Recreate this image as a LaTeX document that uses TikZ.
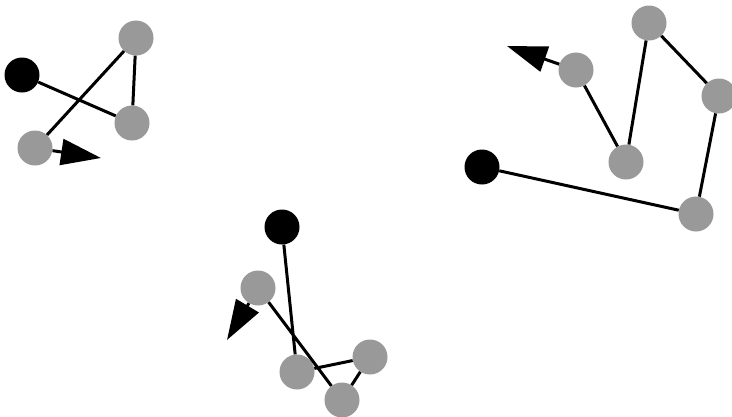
\documentclass[tikz,border=0pt]{standalone}
\usetikzlibrary{arrows.meta}
\definecolor{nodegray}{RGB}{153,153,153}
\begin{document}
\begin{tikzpicture}[x=1pt,y=-1pt,
  gnode/.style={circle,fill=nodegray,minimum size=35pt,inner sep=0pt},
  bnode/.style={circle,fill=black,minimum size=35pt,inner sep=0pt},
  link/.style={line width=3pt,black},
  arr/.style={line width=3pt,black,-{Triangle[length=40pt,width=26pt]}}]
\useasboundingbox (0,0) rectangle (732,416);
% group 1
\node[bnode] (a1) at (22,75) {};
\node[gnode] (a2) at (132,123) {};
\node[gnode] (a3) at (136,38) {};
\node[gnode] (a4) at (35,148) {};
\coordinate (ta) at (101,158);
\draw[link] (a1) -- (a2) -- (a3) -- (a4);
\draw[arr] (a4) -- (ta);
% group 2
\node[bnode] (b1) at (482,167) {};
\node[gnode] (b2) at (696,214) {};
\node[gnode] (b3) at (719,96) {};
\node[gnode] (b4) at (649,23) {};
\node[gnode] (b5) at (626,162) {};
\node[gnode] (b6) at (576,70) {};
\coordinate (tb) at (507,46);
\draw[link] (b1) -- (b2) -- (b3) -- (b4) -- (b5) -- (b6);
\draw[arr] (b6) -- (tb);
% group 3
\node[bnode] (c1) at (282,227) {};
\node[gnode] (c2) at (297,372) {};
\node[gnode] (c3) at (370,357) {};
\node[gnode] (c4) at (342,400) {};
\node[gnode] (c5) at (258,288) {};
\coordinate (tc) at (227,340);
\draw[link] (c1) -- (c2) -- (c3) -- (c4) -- (c5);
\draw[arr] (c5) -- (tc);
\end{tikzpicture}
\end{document}
